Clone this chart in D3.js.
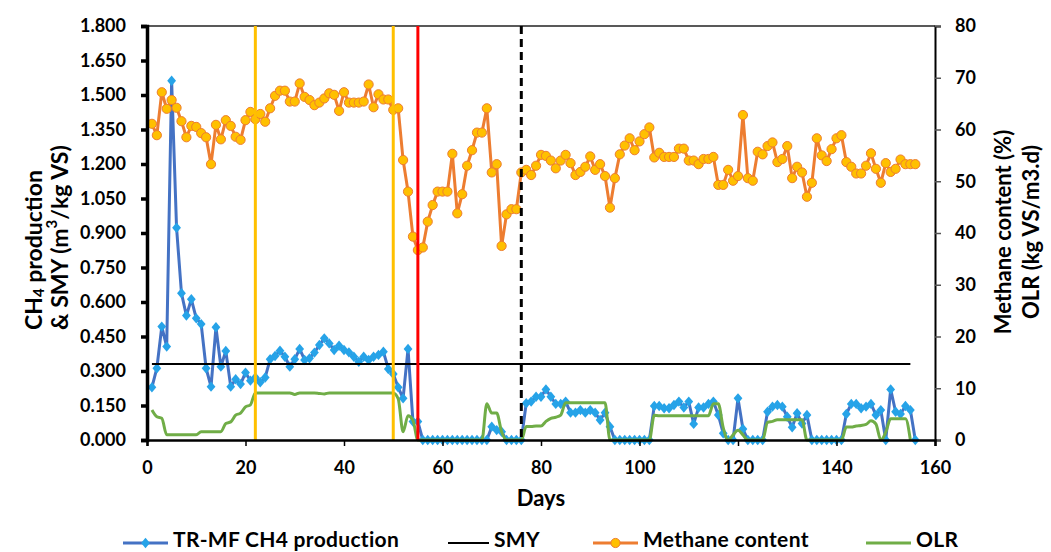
<!DOCTYPE html>
<html>
<head>
<meta charset="utf-8">
<script src="https://cdn.jsdelivr.net/npm/d3@7"></script>
<style>
  html, body { margin: 0; padding: 0; background: #fff; }
  svg { display: block; font-family: "Lato", "Open Sans", sans-serif; font-weight: bold; }
</style>
</head>
<body>
<svg id="chart" width="1051" height="552"></svg>
<script>
// Daily reactor record, days 1..156
const ch4Production = [
  0.229,0.312,0.493,0.406,1.562,0.923,0.638,0.541,0.612,0.529,
  0.504,0.312,0.232,0.490,0.319,0.387,0.232,0.264,0.243,0.293,
  0.258,0.272,0.251,0.272,0.351,0.365,0.388,0.362,0.319,0.351,
  0.396,0.348,0.355,0.380,0.413,0.442,0.420,0.391,0.410,0.391,
  0.381,0.362,0.340,0.362,0.348,0.362,0.370,0.384,0.309,0.287,
  0.229,0.181,0.396,0.080,0.080,0,0,0,0,0,
  0,0,0,0,0,0,0,0,0,0.058,
  0.043,0.036,0,0,0,0,0.160,0.167,0.188,0.188,
  0.220,0.188,0.157,0.157,0.167,0.119,0.119,0.130,0.119,0.130,
  0.119,0.087,0.119,0.058,0,0,0,0,0,0,
  0,0,0.148,0.148,0.138,0.138,0.152,0.167,0.141,0.167,
  0.070,0.141,0.141,0.157,0.167,0.109,0.029,0,0,0.181,
  0.048,0,0,0,0,0.123,0.145,0.152,0.145,0.101,
  0.055,0.116,0.072,0.109,0,0,0,0,0,0,
  0,0.113,0.157,0.157,0.138,0.145,0.157,0.109,0.130,0,
  0.220,0.123,0.113,0.148,0.130,0
];

const methaneContent = [
  61.1,58.9,67.2,64.0,65.7,64.2,61.6,58.5,60.7,60.5,
  59.3,58.5,53.3,60.9,58.1,61.8,60.7,58.6,58.0,61.8,
  63.4,62.0,63.0,61.5,64.1,66.5,67.5,67.5,65.4,65.4,
  68.9,66.3,65.7,64.7,65.2,66.0,67.0,66.7,63.6,67.2,
  65.2,65.2,65.2,65.4,68.7,64.3,66.8,65.8,65.8,63.8,
  64.1,54.1,48.0,39.3,36.7,37.2,42.2,45.4,48.0,48.0,
  48.0,55.3,43.8,47.5,53.0,56.0,59.4,59.4,64.1,51.7,
  53.3,37.5,43.6,44.6,44.6,51.7,52.2,51.2,53.0,55.1,
  54.9,54.0,52.5,54.0,55.1,53.5,51.2,51.8,52.8,54.8,
  52.2,53.3,51.0,44.9,50.6,55.2,56.9,58.3,56.0,57.7,
  59.1,60.4,54.6,55.5,54.7,54.7,54.7,56.3,56.3,54.0,
  54.0,53.3,54.3,54.3,54.7,49.3,49.3,52.2,50.1,51.0,
  62.8,50.6,50.1,55.7,55.2,56.8,57.5,53.7,54.3,56.8,
  50.6,52.8,51.7,47.0,49.7,58.3,55.0,53.9,56.2,58.3,
  58.9,53.7,52.8,51.5,51.5,53.0,55.4,52.4,49.7,53.5,
  51.8,52.4,54.2,53.3,53.3,53.3
];

// Organic loading rate, days 1..155
const olr = [
  5.8,4.5,4.2,1.0,1.0,1.0,1.0,1.0,1.0,1.0,
  1.6,1.6,1.6,1.6,1.6,3.2,3.5,4.8,5.2,6.4,
  6.8,9.1,9.1,9.1,9.1,9.1,9.1,9.1,9.1,8.8,
  9.1,9.1,9.1,9.1,9.0,8.9,9.1,9.1,9.1,9.1,
  9.1,9.1,9.1,9.1,9.1,9.1,9.1,9.1,9.1,9.1,
  8.0,1.6,4.7,3.8,0,0,0,0,0,0,
  0,0,0,0,0,0,0,0,7.0,5.2,
  5.2,1.6,0,0,0,0,2.6,2.6,2.7,2.7,
  3.6,4.2,4.4,4.8,7.2,7.2,7.2,7.2,7.2,7.2,
  7.2,7.2,7.2,0,0,0,0,0,0,0,
  0,0,4.8,4.7,4.7,4.7,4.7,4.7,4.7,4.7,
  4.7,4.7,4.7,4.7,7.0,7.0,2.4,0,1.0,1.9,
  1.0,0,0,0,0,3.4,3.6,3.9,3.9,3.9,
  3.9,3.9,3.9,0,0,0,0,0,0,0,
  0,2.5,2.5,2.7,2.8,3.0,3.7,3.1,0,1.5,
  4.1,4.1,4.1,4.1,0
];

const smyValue = 0.33;
const smyDays = [1, 155];

// Phase boundaries
const goldDays = [22, 50];
const redDays = [55];
const dashedDays = [76];

const leftTicks = d3.range(0, 1.8001, 0.15);
const rightTicks = d3.range(0, 80.001, 10);
const xTicks = d3.range(0, 160.001, 20);

const legendNames = ["TR-MF CH4 production", "SMY", "Methane content", "OLR"];

const colors = {
  ch4: "#4472C4", ch4Marker: "#26A3E8",
  smy: "#000000",
  methane: "#ED7D31", methaneMarker: "#FFC000",
  olr: "#70AD47",
  gold: "#FFC000", red: "#FF0000"
};

const svg = d3.select("#chart");
const plotL = 147, plotR = 935, plotT = 26, plotB = 440;

const x = d3.scaleLinear().domain([0, 160]).range([plotL, plotR]);
const yL = d3.scaleLinear().domain([0, 1.8]).range([plotB, plotT]);
const yR = d3.scaleLinear().domain([0, 80]).range([plotB, plotT]);

svg.append("rect").attr("width", 1051).attr("height", 552).attr("fill", "#fff");

// top border of the plot area
svg.append("line")
  .attr("x1", plotL).attr("x2", plotR).attr("y1", plotT).attr("y2", plotT)
  .attr("stroke", "#222").attr("stroke-width", 1.5);

// Series: CH4 production (primary axis)
const ch4Data = ch4Production.map((v, i) => [i + 1, v]);
svg.append("path").datum(ch4Data)
  .attr("fill", "none").attr("stroke", colors.ch4).attr("stroke-width", 3)
  .attr("stroke-linejoin", "round")
  .attr("d", d3.line().x(d => x(d[0])).y(d => yL(d[1])));
svg.append("g").selectAll("path").data(ch4Data).join("path")
  .attr("transform", d => `translate(${x(d[0])},${yL(d[1])})`)
  .attr("d", "M0,-5.2L4.4,0L0,5.2L-4.4,0Z")
  .attr("fill", colors.ch4Marker);

// SMY reference line
svg.append("line")
  .attr("x1", x(smyDays[0])).attr("x2", x(smyDays[1]))
  .attr("y1", yL(smyValue)).attr("y2", yL(smyValue))
  .attr("stroke", colors.smy).attr("stroke-width", 2);

// Methane content (secondary axis)
const mcData = methaneContent.map((v, i) => [i + 1, v]);
svg.append("path").datum(mcData)
  .attr("fill", "none").attr("stroke", colors.methane).attr("stroke-width", 3)
  .attr("stroke-linejoin", "round")
  .attr("d", d3.line().x(d => x(d[0])).y(d => yR(d[1])));
svg.append("g").selectAll("circle").data(mcData).join("circle")
  .attr("cx", d => x(d[0])).attr("cy", d => yR(d[1])).attr("r", 4.6)
  .attr("fill", colors.methaneMarker).attr("stroke", colors.methane).attr("stroke-width", 1);

// OLR (secondary axis)
const olrData = olr.map((v, i) => [i + 1, v]);
svg.append("path").datum(olrData)
  .attr("fill", "none").attr("stroke", colors.olr).attr("stroke-width", 3)
  .attr("stroke-linejoin", "round")
  .attr("d", d3.line().curve(d3.curveMonotoneX).x(d => x(d[0])).y(d => yR(d[1])));

// Phase boundary lines
const vline = (days, color, dash) => svg.append("g").selectAll("line").data(days).join("line")
  .attr("x1", d => x(d)).attr("x2", d => x(d)).attr("y1", plotT).attr("y2", plotB)
  .attr("stroke", color).attr("stroke-width", 3).attr("stroke-dasharray", dash);
vline(goldDays, colors.gold, null);
vline(redDays, colors.red, null);
vline(dashedDays, "#000", "8,5");

// Axes
const axisFont = g => g.selectAll("text").attr("font-size", 18).attr("font-weight", "bold")
  .attr("fill", "#000").attr("font-family", "Lato, sans-serif");

const gL = svg.append("g").attr("transform", `translate(${plotL},0)`)
  .call(d3.axisLeft(yL).tickValues(leftTicks).tickFormat(d3.format(".3f")).tickSize(6).tickPadding(15));
gL.select(".domain").attr("stroke", "#000").attr("stroke-width", 3.5);
gL.selectAll(".tick line").attr("stroke", "#000").attr("stroke-width", 3.5);
gL.call(axisFont);

const gR = svg.append("g").attr("transform", `translate(${plotR},0)`)
  .call(d3.axisRight(yR).tickValues(rightTicks).tickSize(6).tickPadding(14));
gR.select(".domain").attr("stroke", "#000").attr("stroke-width", 2);
gR.selectAll(".tick line").attr("stroke", "#555").attr("stroke-width", 1.5);
gR.call(axisFont);

const gX = svg.append("g").attr("transform", `translate(0,${plotB})`)
  .call(d3.axisBottom(x).tickValues(xTicks).tickSize(6).tickPadding(15));
gX.select(".domain").attr("stroke", "#000").attr("stroke-width", 2.5);
gX.selectAll(".tick line").attr("stroke", "#000").attr("stroke-width", 1.5);
gX.call(axisFont);

// Axis titles
svg.append("text").attr("x", 541).attr("y", 506).attr("text-anchor", "middle")
  .attr("font-size", 22).text("Days");

const lt1 = svg.append("text").attr("transform", "translate(33,330) rotate(-90)")
  .attr("text-anchor", "start").attr("dominant-baseline", "central").attr("font-size", 23);
lt1.append("tspan").text("CH");
lt1.append("tspan").attr("font-size", 15).attr("dy", 5).text("4");
lt1.append("tspan").attr("dy", -5).text(" production");

const lt2 = svg.append("text").attr("transform", "translate(59,330) rotate(-90)")
  .attr("text-anchor", "start").attr("dominant-baseline", "central").attr("font-size", 23);
lt2.append("tspan").text("& SMY (m");
lt2.append("tspan").attr("font-size", 15).attr("dy", -8).text("3");
lt2.append("tspan").attr("dy", 8).text("/kg VS)");

svg.append("text").attr("transform", "translate(1002,232) rotate(-90)")
  .attr("text-anchor", "middle").attr("dominant-baseline", "central").attr("font-size", 22)
  .text("Methane content (%)");
svg.append("text").attr("transform", "translate(1030,232) rotate(-90)")
  .attr("text-anchor", "middle").attr("dominant-baseline", "central").attr("font-size", 22)
  .text("OLR (kg VS/m3.d)");

// Legend
const ly = 543;
const legendItems = [
  { name: legendNames[0], x0: 123, x1: 168, color: colors.ch4, marker: "diamond" },
  { name: legendNames[1], x0: 448, x1: 489, color: colors.smy, marker: null },
  { name: legendNames[2], x0: 593, x1: 638, color: colors.methane, marker: "circle" },
  { name: legendNames[3], x0: 866, x1: 911, color: colors.olr, marker: null }
];
const lg = svg.append("g").selectAll("g").data(legendItems).join("g");
lg.append("line").attr("x1", d => d.x0).attr("x2", d => d.x1).attr("y1", ly).attr("y2", ly)
  .attr("stroke", d => d.color).attr("stroke-width", d => d.color === "#000000" ? 2 : 3);
lg.filter(d => d.marker === "diamond").append("path")
  .attr("transform", d => `translate(${(d.x0 + d.x1) / 2},${ly})`)
  .attr("d", "M0,-5.2L4.4,0L0,5.2L-4.4,0Z").attr("fill", colors.ch4Marker);
lg.filter(d => d.marker === "circle").append("circle")
  .attr("cx", d => (d.x0 + d.x1) / 2).attr("cy", ly).attr("r", 4.6)
  .attr("fill", colors.methaneMarker).attr("stroke", colors.methane);
lg.append("text").attr("x", d => d.x1 + 5).attr("y", 547).attr("font-size", 21)
  .attr("letter-spacing", 0.3).text(d => d.name);
</script>
</body>
</html>
